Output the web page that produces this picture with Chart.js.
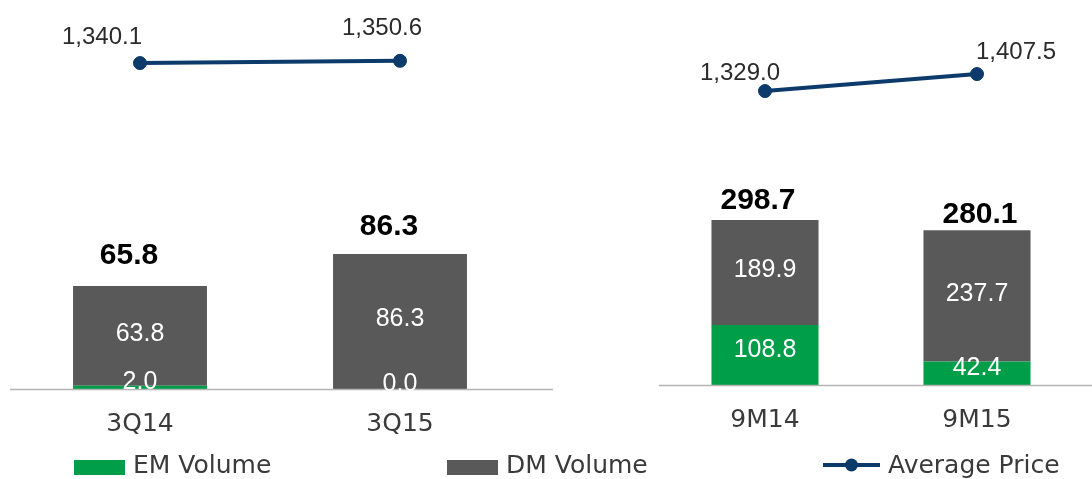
<!DOCTYPE html>
<html><head><meta charset="utf-8">
<script src="https://cdn.jsdelivr.net/npm/chart.js@4.4.1/dist/chart.umd.min.js"></script>
<style>
html,body{margin:0;padding:0;background:#fff;width:1092px;height:479px;overflow:hidden;}
#wrap{position:relative;width:1092px;height:479px;}
.c{position:absolute;}
</style></head><body>
<div id="wrap">
<div class="c" style="left:0;top:0;width:556px;height:459px"><canvas id="left"></canvas></div>
<div class="c" style="left:556px;top:0;width:536px;height:459px"><canvas id="right"></canvas></div>
<div class="c" style="left:0;top:440px;width:1092px;height:39px"><canvas id="legend"></canvas></div>
</div>
<script>
// ---- data ----
const quarterCategories = ['3Q14', '3Q15'];
const quarterEM = [2.0, 0.0];
const quarterDM = [63.8, 86.3];
const quarterPrice = [1340.1, 1350.6];

const ytdCategories = ['9M14', '9M15'];
const ytdEM = [108.8, 42.4];
const ytdDM = [189.9, 237.7];
const ytdPrice = [1329.0, 1407.5];

const seriesNames = ['EM Volume', 'DM Volume', 'Average Price'];

// ---- style ----
const GREEN = '#009E48', GRAY = '#595959', NAVY = '#0B3A6B';
const REG = '"DejaVu Sans", sans-serif';
const NUM = '"Liberation Sans", Arial, sans-serif';

const fmt1 = v => v.toLocaleString('en-US', {minimumFractionDigits: 1, maximumFractionDigits: 1});

const annotPlugin = {
  id: 'annot',
  afterDatasetsDraw(chart, args, o) {
    const ctx = chart.ctx, ca = chart.chartArea;
    const ys = chart.scales.y, xs = chart.scales.x;
    // baseline
    const by = Math.round(ys.getPixelForValue(0)) + 0.5;
    ctx.save();
    ctx.strokeStyle = '#B4B4B4';
    ctx.lineWidth = 1.6;
    ctx.beginPath();
    ctx.moveTo(ca.left, by);
    ctx.lineTo(ca.right + o.extendRight, by);
    ctx.stroke();

    const ds = chart.data.datasets;
    // segment labels
    ctx.textAlign = 'center';
    ctx.textBaseline = 'middle';
    ctx.font = '25px ' + NUM;
    ctx.fillStyle = '#FFFFFF';
    ds.forEach((d, di) => {
      if (d.type !== 'bar') return;
      const meta = chart.getDatasetMeta(di);
      meta.data.forEach((bar, i) => {
        const c = bar.getCenterPoint();
        ctx.fillText(fmt1(d.data[i]), c.x, c.y + (o.segDy[di] || 0));
      });
    });
    // totals
    ctx.font = 'bold 30px ' + NUM;
    ctx.fillStyle = '#000000';
    const n = chart.data.labels.length;
    for (let i = 0; i < n; i++) {
      let tot = 0;
      ds.forEach(d => { if (d.type === 'bar') tot += d.data[i]; });
      const x = xs.getPixelForValue(i) + o.totalOff[i][0];
      const y = ys.getPixelForValue(tot) + o.totalOff[i][1];
      ctx.fillText(fmt1(tot), x, y);
    }
    // price labels
    ctx.font = '24px ' + NUM;
    ctx.fillStyle = '#2B2B2B';
    ds.forEach((d, di) => {
      if (d.type !== 'line') return;
      const meta = chart.getDatasetMeta(di);
      meta.data.forEach((pt, i) => {
        ctx.fillText(fmt1(d.data[i]), pt.x + o.priceOff[i][0], pt.y + o.priceOff[i][1]);
      });
    });
    ctx.restore();
  }
};

function makePanel(id, cats, em, dm, price, cfg) {
  return new Chart(document.getElementById(id), {
    data: {
      labels: cats,
      datasets: [
        {type: 'line', label: seriesNames[2], data: price, yAxisID: 'y1', order: 0,
         borderColor: NAVY, borderWidth: 4, pointRadius: 6.5, pointBackgroundColor: NAVY,
         pointBorderColor: NAVY, pointBorderWidth: 1, fill: false, tension: 0},
        {type: 'bar', label: seriesNames[0], data: em, yAxisID: 'y', order: 1,
         backgroundColor: GREEN, barPercentage: cfg.barPct, categoryPercentage: 1},
        {type: 'bar', label: seriesNames[1], data: dm, yAxisID: 'y', order: 1,
         backgroundColor: GRAY, barPercentage: cfg.barPct, categoryPercentage: 1}
      ]
    },
    options: {
      responsive: true, maintainAspectRatio: false, animation: false,
      layout: {padding: cfg.padding},
      plugins: {
        legend: {display: false}, tooltip: {enabled: false},
        annot: {extendRight: cfg.extendRight, totalOff: cfg.totalOff, priceOff: cfg.priceOff, segDy: [0, -5, -2]}
      },
      scales: {
        x: {stacked: true, grid: {display: false, drawTicks: false}, border: {display: false},
            ticks: {font: {family: REG, size: 25}, color: '#3A3A3A', padding: 20}},
        y: {stacked: true, display: false, min: 0, max: cfg.yMax},
        y1: {display: false, min: cfg.pMin, max: cfg.pMax}
      }
    },
    plugins: [annotPlugin]
  });
}

makePanel('left', quarterCategories, quarterEM, quarterDM, quarterPrice, {
  barPct: 0.515, padding: {left: 10, right: 26, top: 20, bottom: 0}, extendRight: 23,
  yMax: 236, pMin: -165, pMax: 1539,
  totalOff: [[-11, -30], [-11, -27]],
  priceOff: [[-38, -26], [-18, -32]]
});
makePanel('right', ytdCategories, ytdEM, ytdDM, ytdPrice, {
  barPct: 0.505, padding: {left: 103, right: 9, top: 20, bottom: 4}, extendRight: 9,
  yMax: 661, pMin: -28, pMax: 1657,
  totalOff: [[-7, -19], [3, -16]],
  priceOff: [[-25, -18], [39, -22]]
});

// ---- legend (drawn from dataset definitions) ----
const legendPlugin = {
  id: 'seriesLegend',
  afterDraw(chart, args, o) {
    const ctx = chart.ctx;
    const items = Chart.defaults.plugins.legend.labels.generateLabels(chart);
    ctx.save();
    ctx.textBaseline = 'middle';
    ctx.textAlign = 'left';
    ctx.font = '25px ' + REG;
    items.forEach((it, k) => {
      const d = chart.data.datasets[it.datasetIndex];
      const x = o.pos[k], y = o.y, w = o.marker[k];
      if (d.type === 'line') {
        ctx.strokeStyle = d.borderColor; ctx.lineWidth = 4;
        ctx.beginPath(); ctx.moveTo(x, y - 1); ctx.lineTo(x + w, y - 1); ctx.stroke();
        ctx.fillStyle = d.borderColor;
        ctx.beginPath(); ctx.arc(x + w / 2, y - 1, 6.5, 0, Math.PI * 2); ctx.fill();
      } else {
        ctx.fillStyle = d.backgroundColor;
        ctx.fillRect(x, y - 6, w, 15);
      }
      ctx.fillStyle = '#3A3A3A';
      ctx.fillText(it.text, x + w + o.gap, y);
    });
    ctx.restore();
  }
};
new Chart(document.getElementById('legend'), {
  type: 'bar',
  data: {
    labels: [],
    datasets: [
      {type: 'bar', label: seriesNames[0], data: [], backgroundColor: GREEN},
      {type: 'bar', label: seriesNames[1], data: [], backgroundColor: GRAY},
      {type: 'line', label: seriesNames[2], data: [], borderColor: NAVY, backgroundColor: NAVY}
    ]
  },
  options: {
    responsive: true, maintainAspectRatio: false, animation: false,
    plugins: {legend: {display: false}, tooltip: {enabled: false},
      seriesLegend: {pos: [74, 447, 823], marker: [51, 51, 57], gap: 8, y: 26}},
    scales: {x: {display: false}, y: {display: false}}
  },
  plugins: [legendPlugin]
});
</script>
</body></html>
